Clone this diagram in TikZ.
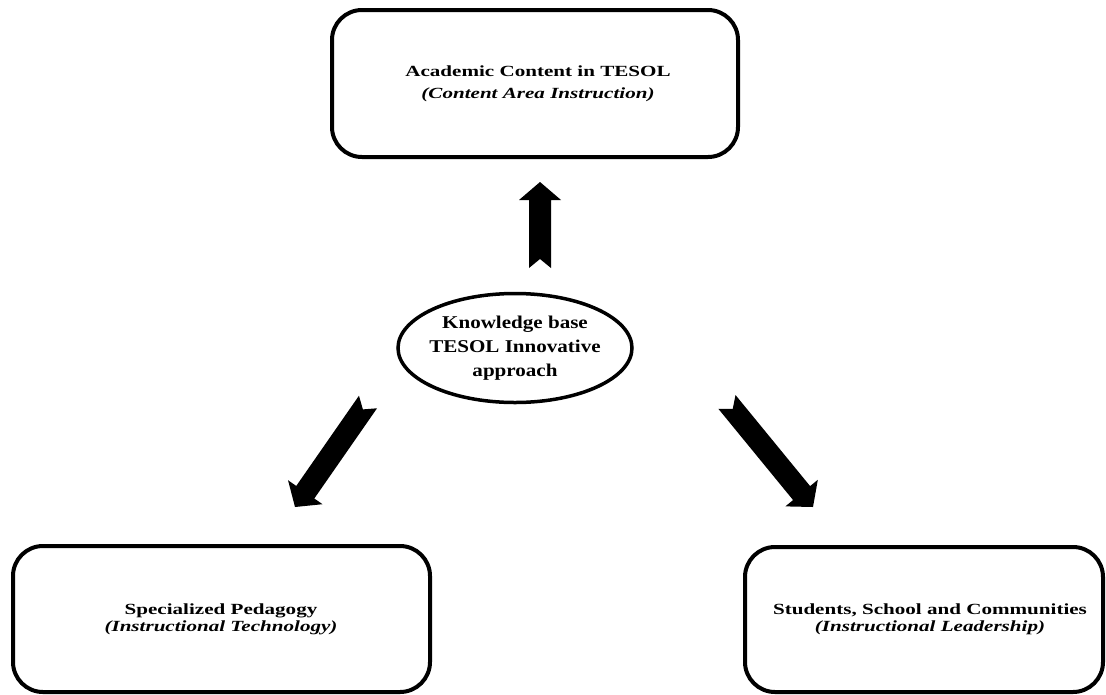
\documentclass[tikz,border=0pt]{standalone}
\usepackage{fontspec}
\setmainfont{Liberation Serif}
\newfontfamily\widefont[FakeStretch=1.36]{Liberation Serif}
\newfontfamily\ovalfont[FakeStretch=1.17]{Liberation Serif}
\usetikzlibrary{calc}
\newcommand\shaftw{11}
\newcommand\headw{21}
\newcommand\headl{18}
\newcommand\notchd{9}
\newcommand\blkarrow[3]{%
  \coordinate (#1t) at #2;
  \coordinate (#1h) at #3;
  \coordinate (#1b) at ($(#1h)!\headl pt!(#1t)$);
  \fill[black]
    ($(#1t)!\shaftw pt!90:(#1h)$) --
    ($(#1b)!\shaftw pt!90:(#1h)$) --
    ($(#1b)!\headw pt!90:(#1h)$) --
    (#1h) --
    ($(#1b)!\headw pt!-90:(#1h)$) --
    ($(#1b)!\shaftw pt!-90:(#1h)$) --
    ($(#1t)!\shaftw pt!-90:(#1h)$) --
    ($(#1t)!\notchd pt!(#1h)$) -- cycle;
}
\begin{document}
\begin{tikzpicture}[x=1pt,y=-1pt,
  boxstyle/.style={draw=black, line width=4pt, rounded corners=30pt},
  boxtext/.style={align=center, inner sep=0pt},
  ovaltext/.style={align=center, inner sep=0pt,
    font=\ovalfont\fontsize{18}{24}\selectfont}]
\useasboundingbox (0,0) rectangle (1106,694);
\fill[white] (0,0) rectangle (1106,694);
% boxes
\draw[boxstyle] (332,10) rectangle (738,157);
\node[boxtext, font=\widefont\fontsize{15.5}{22}\selectfont] (top) at (538,84) {\textbf{Academic Content in TESOL}\\\textbf{\textit{(Content Area Instruction)}}};
\draw[boxstyle] (13,546) rectangle (430,692);
\node[boxtext, font=\widefont\fontsize{15.5}{17}\selectfont] (left) at (221,619) {\textbf{Specialized Pedagogy}\\\textbf{\textit{(Instructional Technology)}}};
\draw[boxstyle] (745,547) rectangle (1103,692);
\node[boxtext, font=\widefont\fontsize{15.5}{17}\selectfont] (right) at (930,619) {\textbf{Students, School and Communities}\\\textbf{\textit{(Instructional Leadership)}}};
% ellipse
\node[ovaltext] (center) at (515,348) {\textbf{Knowledge base}\\\textbf{TESOL Innovative}\\\textbf{approach}};
\draw[black, line width=3.5pt] (center.center) ellipse [x radius=117, y radius=54.5];
% arrows
\blkarrow{up}{(540,268)}{(540,182)}
\blkarrow{dl}{(368,402)}{(295,507)}
\blkarrow{dr}{(727,402)}{(813,507)}
\end{tikzpicture}
\end{document}
